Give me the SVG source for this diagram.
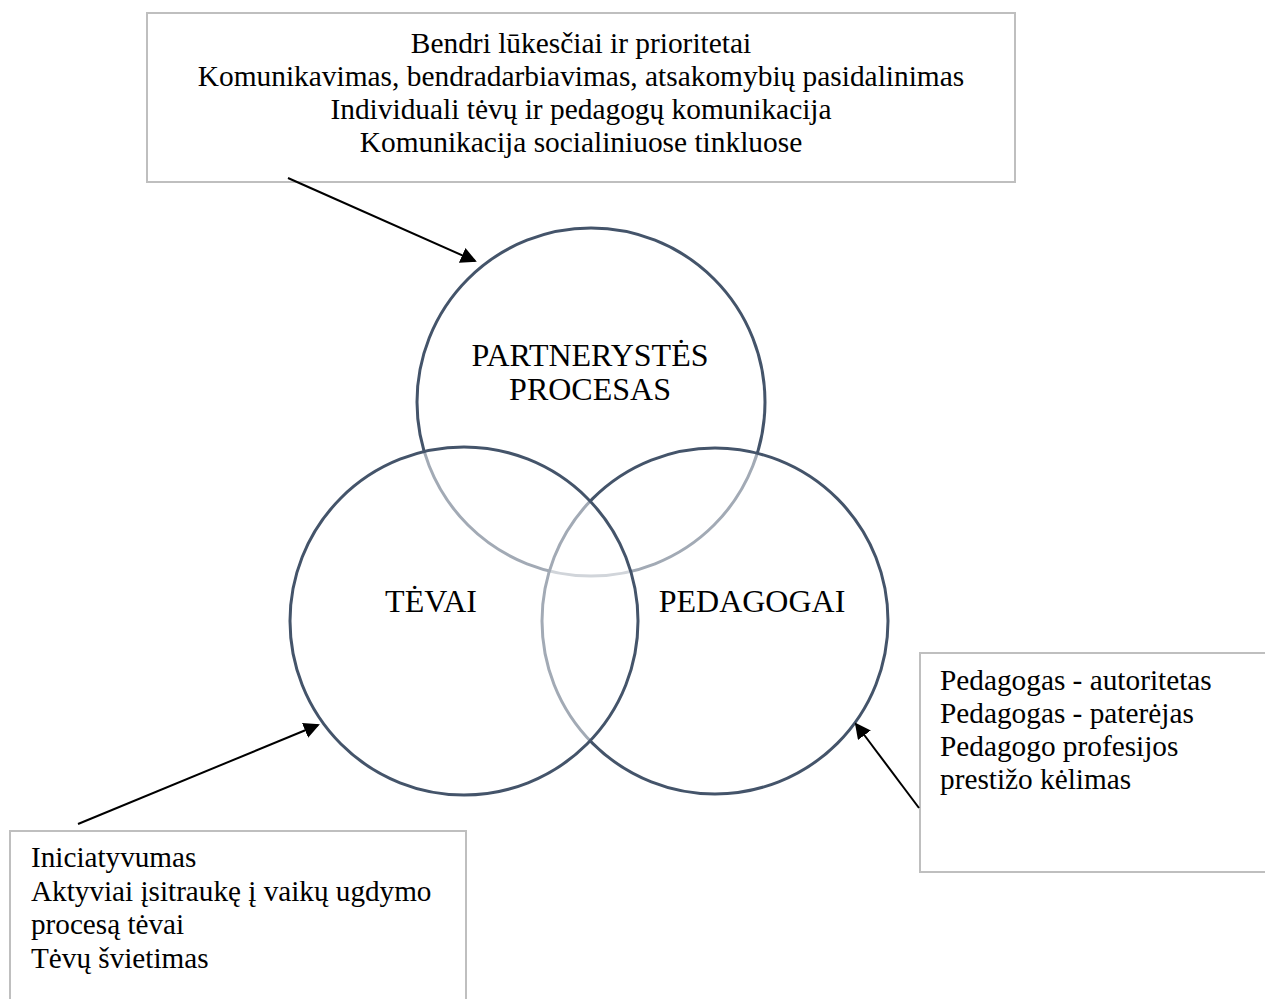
<svg xmlns="http://www.w3.org/2000/svg" width="1265" height="999" viewBox="0 0 1265 999">
<defs>
<style>
.box{fill:#fff;stroke:#bfbfbf;stroke-width:2}
.circ{fill:#fff;fill-opacity:0.5;stroke:#44546a;stroke-width:3}
.t{font-family:"Liberation Serif","Times New Roman",serif;fill:#000}
.tc{text-anchor:middle}
.conn{stroke:#000;stroke-width:2;fill:none;marker-end:url(#ah)}
</style>
<marker id="ah" markerWidth="8" markerHeight="8" refX="7" refY="4" orient="auto" markerUnits="strokeWidth">
<path d="M0,0 L8,4 L0,8 Z" fill="#000"/>
</marker>
</defs>
<rect width="1265" height="999" fill="#fff"/>
<g id="box-top">
<rect class="box" x="147" y="13" width="868" height="169"/>
<text class="t tc" font-family="Liberation Serif, serif" font-size="29.4" x="581"><tspan x="581" y="53">Bendri lūkesčiai ir prioritetai</tspan><tspan x="581" y="86">Komunikavimas, bendradarbiavimas, atsakomybių pasidalinimas</tspan><tspan x="581" y="119">Individuali tėvų ir pedagogų komunikacija</tspan><tspan x="581" y="152">Komunikacija socialiniuose tinkluose</tspan></text>
</g>
<g id="circle-partnerystes">
<circle class="circ" cx="591" cy="402" r="174"/>
</g>
<g id="circle-pedagogai">
<circle class="circ" cx="715" cy="621" r="173"/>
</g>
<g id="circle-tevai">
<circle class="circ" cx="464" cy="621" r="174"/>
</g>
<g id="labels">
<text class="t tc" font-family="Liberation Serif, serif" font-size="32" x="590"><tspan x="590" y="366">PARTNERYSTĖS</tspan><tspan x="590" y="400">PROCESAS</tspan></text>
<text class="t tc" font-family="Liberation Serif, serif" font-size="32" x="431" y="612">TĖVAI</text>
<text class="t tc" font-family="Liberation Serif, serif" font-size="32" x="752" y="612">PEDAGOGAI</text>
</g>
<g id="box-right">
<rect class="box" x="920" y="653" width="360" height="219"/>
<text class="t" font-family="Liberation Serif, serif" font-size="29.3" x="940"><tspan x="940" y="690">Pedagogas - autoritetas</tspan><tspan x="940" y="723">Pedagogas - paterėjas</tspan><tspan x="940" y="756">Pedagogo profesijos</tspan><tspan x="940" y="789">prestižo kėlimas</tspan></text>
</g>
<g id="box-left">
<rect class="box" x="10" y="831" width="456" height="190"/>
<text class="t" font-family="Liberation Serif, serif" font-size="29.2" x="31"><tspan x="31" y="867">Iniciatyvumas</tspan><tspan x="31" y="901">Aktyviai įsitraukę į vaikų ugdymo</tspan><tspan x="31" y="934">procesą tėvai</tspan><tspan x="31" y="968">Tėvų švietimas</tspan></text>
</g>
<g id="connectors">
<line class="conn" x1="288" y1="178" x2="475" y2="261"/>
<line class="conn" x1="78" y1="824" x2="318" y2="725"/>
<line class="conn" x1="919" y1="808" x2="856" y2="724"/>
</g>
</svg>
